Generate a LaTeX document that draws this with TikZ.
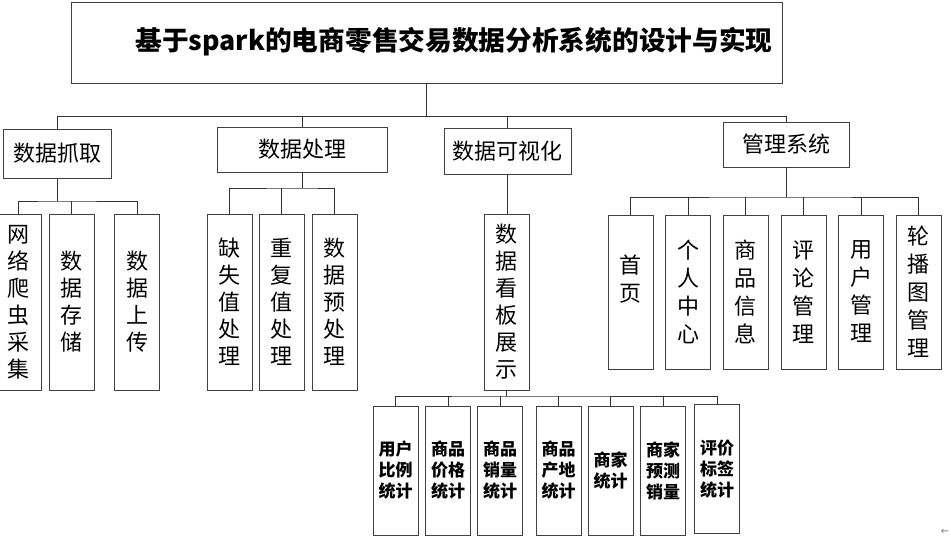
\documentclass[tikz,border=0pt]{standalone}
\usepackage{fontspec}
\setmainfont{Noto Sans CJK SC}
\newfontfamily\dejavu{DejaVu Sans}
\begin{document}
\begin{tikzpicture}[x=1pt,y=-1pt,
  box/.style={draw=black!75, line width=0.9pt, inner sep=0pt, align=center, text=black},
  lvone/.style={box, font=\fontsize{22}{26}\selectfont},
  col/.style={box, minimum width=45pt, minimum height=176pt, font=\fontsize{22}{27}\selectfont},
  mcol/.style={box, minimum width=45pt, minimum height=154pt, font=\fontsize{22}{28}\selectfont},
  scol/.style={box, minimum width=45pt, minimum height=129pt, font=\bfseries\fontsize{17}{21}\selectfont},
  conn/.style={draw=black!80, line width=0.8pt},
]
\useasboundingbox (0,0) rectangle (951,545);
\fill[white] (0,0) rectangle (951,545);

% title
\node[box, minimum width=711pt, minimum height=81pt] (title) at (426.5,42.5) {};
\node[font=\bfseries\fontsize{26.7}{30}\selectfont, inner sep=0pt] (titletext) at (454,42) {基于spark的电商零售交易数据分析系统的设计与实现};

% level 1
\node[lvone, minimum width=108pt, minimum height=49pt] (grab) at (57,153.5) {数据抓取};
\node[lvone, minimum width=170pt, minimum height=45pt] (proc) at (302,149.5) {数据处理};
\node[lvone, minimum width=127pt, minimum height=46pt] (vis) at (507.5,151) {数据可视化};
\node[lvone, minimum width=126pt, minimum height=45pt] (mgmt) at (786,144.5) {管理系统};

\coordinate (b0) at (426.5,116.5);
\draw[conn] (title.south) -- (b0);
\draw[conn] (grab.north) |- (b0) -| (mgmt.north);
\draw[conn] (proc.north) -- (proc.north |- b0);
\draw[conn] (vis.north) -- (vis.north |- b0);

% grab children
\node[col] (g1) at (18.5,302) {网\\络\\爬\\虫\\采\\集};
\node[col] (g2) at (71.5,302) {数\\据\\存\\储};
\node[col] (g3) at (137,302) {数\\据\\上\\传};
\coordinate (gb) at (57,201);
\draw[conn] (grab.south) -- (gb);
\draw[conn] (g1.north) |- (gb) -| (g3.north);
\draw[conn] (g2.north) -- (g2.north |- gb);

% proc children
\node[col] (p1) at (229.5,302) {缺\\失\\值\\处\\理};
\node[col] (p2) at (281.5,302) {重\\复\\值\\处\\理};
\node[col] (p3) at (334.5,302) {数\\据\\预\\处\\理};
\coordinate (pb) at (302,188);
\draw[conn] (proc.south) -- (pb);
\draw[conn] (p1.north) |- (pb) -| (p3.north);
\draw[conn] (p2.north) -- (p2.north |- pb);

% vis child
\node[col] (v1) at (506.5,302) {数\\据\\看\\板\\展\\示};
\draw[conn] (vis.south) -- (vis.south |- v1.north);

% bottom row
\node[scol] (s1) at (395.5,470.5) {用户\\比例\\统计};
\node[scol] (s2) at (448,470.5) {商品\\价格\\统计};
\node[scol] (s3) at (500,470.5) {商品\\销量\\统计};
\node[scol] (s4) at (558.5,470.5) {商品\\产地\\统计};
\node[scol] (s5) at (610.5,470.5) {商家\\统计};
\node[scol] (s6) at (663,470.5) {商家\\预测\\销量};
\node[scol] (s7) at (717,469) {评价\\标签\\统计};
\coordinate (vb) at (506.5,396);
\draw[conn] (v1.south) -- (vb);
\draw[conn] (s1.north) |- (vb) -| (s7.north);
\foreach \n in {s2,s3,s4,s5,s6} \draw[conn] (\n.north) -- (\n.north |- vb);

% mgmt children
\node[mcol] (m1) at (630.5,292) {首\\页\\\mbox{}};
\node[mcol] (m2) at (688,292) {个\\人\\中\\心};
\node[mcol] (m3) at (745.5,292) {商\\品\\信\\息};
\node[mcol] (m4) at (803.5,292) {评\\论\\管\\理};
\node[mcol] (m5) at (861,292) {用\\户\\管\\理};
\node[mcol] (m6) at (918.5,292) {轮\\播\\图\\管\\理};
\coordinate (mb) at (786,197);
\draw[conn] (mgmt.south) -- (mb);
\draw[conn] (m1.north) |- (mb) -| (m6.north);
\foreach \n in {m2,m3,m4,m5} \draw[conn] (\n.north) -- (\n.north |- mb);

% stray mark
\node[font=\dejavu\fontsize{10}{10}\selectfont, text=black!50, inner sep=0pt] (mark) at (945,532) {←};
\end{tikzpicture}
\end{document}
